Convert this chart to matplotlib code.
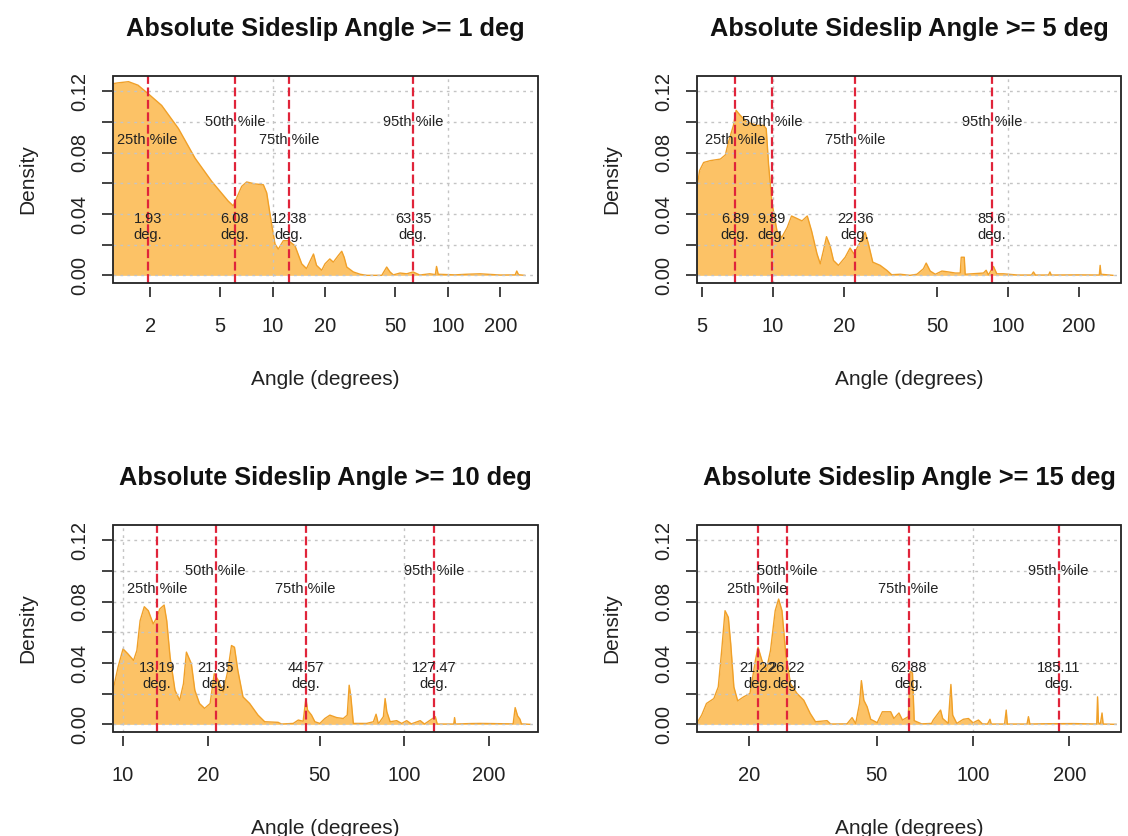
import matplotlib
matplotlib.use("Agg")
import matplotlib.pyplot as plt
from matplotlib.patches import Rectangle

# --- DATA ---
# kernel density of |sideslip angle| for four thresholds
x_1deg = [1.15, 1.30, 1.50, 1.70, 1.95, 2.32, 2.89, 3.60, 4.48, 5.57,
          5.95, 6.22, 6.65, 7.10, 7.92, 8.84, 9.24, 9.65, 10.3, 10.76,
          11.5, 12.3, 13.4, 14.65, 15.6, 17.1, 17.8, 19.05, 19.9, 21.2,
          22.2, 23.7, 24.8, 25.6, 26.5, 28.9, 31.6, 34.5, 42.0, 44.8,
          46.8, 48.9, 53.4, 58.3, 63.4, 69.2, 79.0, 85.0, 86.3, 88.2,
          110, 128, 153, 200, 243, 248, 254, 275]
y_1deg = [0.1245, 0.1255, 0.1263, 0.1240, 0.1183, 0.1108, 0.0958, 0.0764, 0.0613, 0.0484,
          0.0453, 0.0504, 0.0580, 0.0609, 0.0596, 0.0591, 0.0538, 0.0400, 0.0205, 0.0171,
          0.0226, 0.0226, 0.0193, 0.0075, 0.0044, 0.0139, 0.0065, 0.0033, 0.0075, 0.0107,
          0.0086, 0.0129, 0.0157, 0.0118, 0.0054, 0.0022, 0.0007, 0.0, 0.0, 0.0054,
          0.0022, 0.0003, 0.0015, 0.0010, 0.0022, 0.0002, 0.0010, 0.0005, 0.0058, 0.0007,
          0.0003, 0.0007, 0.0010, 0.0002, 0.0003, 0.0028, 0.0004, 0.0]

x_5deg = [4.6, 4.75, 4.87, 5.07, 5.41, 5.97, 6.27, 6.47, 6.79, 6.97,
          7.26, 7.74, 8.55, 9.12, 9.36, 9.58, 9.91, 10.4, 10.9, 11.5,
          12.0, 12.6, 13.3, 14.0, 14.6, 15.4, 15.9, 16.4, 16.9, 17.5,
          18.1, 19.0, 20.3, 21.3, 22.1, 23.5, 24.7, 25.5, 26.6, 28.6,
          30.5, 32.0, 34.8, 38.3, 41.0, 43.7, 44.9, 46.7, 49.1, 52.4,
          55.9, 59.7, 62.7, 63.3, 65.2, 65.8, 78.7, 80.8, 82.6, 86.8,
          89.7, 95.8, 110, 126, 128.5, 131, 149, 151, 153, 200,
          245, 247, 249, 280]
y_5deg = [0.050, 0.057, 0.0683, 0.0736, 0.0748, 0.0758, 0.0785, 0.0870, 0.0978, 0.1076,
          0.1043, 0.1000, 0.0978, 0.0978, 0.0957, 0.0721, 0.0470, 0.0290, 0.0247, 0.0312,
          0.0387, 0.0372, 0.0355, 0.0387, 0.0290, 0.0140, 0.0075, 0.0161, 0.0252, 0.0193,
          0.0097, 0.0065, 0.0118, 0.0178, 0.0140, 0.0215, 0.0280, 0.0204, 0.0086, 0.0065,
          0.0033, 0.0004, 0.0007, 0.0, 0.0007, 0.0043, 0.0080, 0.0028, 0.0007, 0.0028,
          0.0022, 0.0015, 0.0015, 0.0118, 0.0118, 0.0007, 0.0015, 0.0033, 0.0003, 0.0058,
          0.0010, 0.0010, 0.0002, 0.0002, 0.0022, 0.0002, 0.0002, 0.0022, 0.0002, 0.0003,
          0.0002, 0.0065, 0.0007, 0.0]

x_10deg = [9.0, 9.21, 9.60, 10.0, 10.4, 10.9, 11.2, 11.5, 11.9, 12.3,
           12.8, 13.2, 13.5, 14.0, 14.3, 14.7, 15.3, 15.9, 16.4, 16.8,
           17.5, 18.0, 18.7, 19.5, 20.4, 21.1, 21.8, 22.7, 23.6, 24.3,
           24.9, 25.6, 26.7, 28.2, 30.2, 31.9, 35.6, 36.6, 40.3, 42.0,
           43.7, 44.7, 45.3, 46.8, 48.1, 50.1, 52.2, 54.4, 57.5, 60.7,
           62.7, 63.7, 64.6, 65.9, 73.5, 77.7, 79.4, 80.9, 84.3, 85.5,
           86.7, 89.1, 94.0, 97.9, 102, 106, 114, 118, 129, 131,
           150, 151, 152, 171, 186, 205, 244, 248, 253, 258, 261, 280]
y_10deg = [0.015, 0.0222, 0.0374, 0.0492, 0.0460, 0.0417, 0.0482, 0.0676, 0.0767, 0.0741,
           0.0655, 0.0698, 0.0752, 0.0778, 0.0676, 0.0438, 0.0222, 0.0157, 0.0265, 0.0471,
           0.0395, 0.0222, 0.0136, 0.0104, 0.0136, 0.0330, 0.0287, 0.0211, 0.0352, 0.0514,
           0.0503, 0.0352, 0.0179, 0.0136, 0.0060, 0.0017, 0.0013, 0.0002, 0.0006, 0.0028,
           0.0020, 0.0168, 0.0093, 0.0060, 0.0017, 0.0006, 0.0038, 0.0060, 0.0044, 0.0038,
           0.0060, 0.0255, 0.0179, 0.0006, 0.0006, 0.0017, 0.0066, 0.0003, 0.0050, 0.0168,
           0.0082, 0.0017, 0.0024, 0.0006, 0.0024, 0.0003, 0.0024, 0.0002, 0.0050, 0.0002,
           0.0002, 0.0044, 0.0002, 0.0005, 0.0006, 0.0005, 0.0003, 0.0109, 0.0055, 0.0033,
           0.0003, 0.0]

x_15deg = [13.5, 13.7, 14.2, 14.7, 15.5, 16.0, 16.4, 16.8, 17.2, 17.5,
           17.9, 18.4, 19.2, 20.1, 20.9, 21.3, 21.9, 22.6, 23.3, 24.1,
           24.7, 25.3, 26.0, 26.9, 28.2, 29.6, 31.0, 32.2, 35.0, 35.9,
           40.4, 41.9, 43.0, 44.2, 44.8, 45.6, 46.7, 47.9, 50.2, 52.1,
           55.3, 56.6, 58.7, 60.2, 62.8, 63.6, 64.7, 65.5, 69.1, 74.2,
           75.1, 79.2, 80.4, 83.7, 85.3, 86.4, 89.0, 93.3, 96.8, 100,
           104, 107, 111, 113, 114, 125.5, 127, 128, 147.5, 149,
           150.5, 170, 206, 243.5, 245, 246.5, 250, 253, 255, 280]
y_15deg = [0.0, 0.0006, 0.0060, 0.0136, 0.0168, 0.0244, 0.0482, 0.0741, 0.0698, 0.0525,
           0.0244, 0.0153, 0.0179, 0.0201, 0.0417, 0.0503, 0.0417, 0.0352, 0.0482, 0.0741,
           0.0817, 0.0741, 0.0460, 0.0265, 0.0201, 0.0157, 0.0071, 0.0017, 0.0024, 0.0002,
           0.0003, 0.0044, 0.0005, 0.0136, 0.0285, 0.0157, 0.0114, 0.0033, 0.0011, 0.0082,
           0.0082, 0.0038, 0.0074, 0.0028, 0.0050, 0.0346, 0.0335, 0.0024, 0.0003, 0.0006,
           0.0028, 0.0093, 0.0038, 0.0006, 0.0260, 0.0060, 0.0006, 0.0033, 0.0038, 0.0010,
           0.0028, 0.0003, 0.0002, 0.0033, 0.0002, 0.0002, 0.0093, 0.0002, 0.0002, 0.0050,
           0.0002, 0.0004, 0.0005, 0.0002, 0.0179, 0.0010, 0.0002, 0.0074, 0.0002, 0.0]

# 25th / 50th / 75th / 95th percentiles
pct_1deg = [1.93, 6.08, 12.38, 63.35]
pct_5deg = [6.89, 9.89, 22.36, 85.6]
pct_10deg = [13.19, 21.35, 44.57, 127.47]
pct_15deg = [21.22, 26.22, 62.88, 185.11]

pct_names = ["25th %ile", "50th %ile", "75th %ile", "95th %ile"]
thresholds = [1, 5, 10, 15]
x_ticks_all = [2, 5, 10, 20, 50, 100, 200]

# --- STYLE ---
FILL = "#FCC266"
EDGE = "#F0A028"
RED = "#E0243A"
GRID = "#C4C4C4"
INK = "#222222"
plt.rcParams["font.family"] = ["Liberation Sans", "DejaVu Sans"]


def draw_panel(ax, xs, ys, pcts, thr, xlim):
    ax.set_xscale("log")
    ax.set_xlim(*xlim)
    ax.set_ylim(-0.005, 0.13)

    # density
    ax.fill_between(xs, ys, 0, color=FILL, lw=0, zorder=1)
    ax.plot(xs, ys, color=EDGE, lw=1.0, zorder=2)

    # grid like R's grid(): dotted lightgray on top of the fill
    for yv in [0, 0.02, 0.04, 0.06, 0.08, 0.10, 0.12]:
        ax.axhline(yv, color=GRID, lw=1.0, ls=(0, (2, 3)), zorder=3)
    for xv in [1, 10, 100]:
        if xlim[0] < xv < xlim[1]:
            ax.axvline(xv, color=GRID, lw=1.0, ls=(0, (2, 3)), zorder=3)

    # percentile lines + labels
    for i, p in enumerate(pcts):
        ax.axvline(p, color=RED, lw=1.6, ls=(0, (4, 1.6)), zorder=4)
        ylab = 0.088 if i % 2 == 0 else 0.100
        ax.text(p, ylab, pct_names[i], ha="center", va="center",
                fontsize=10.5, color=INK, zorder=5)
        ax.text(p, 0.0315, f"{p}\ndeg.", ha="center", va="center",
                fontsize=10.5, color=INK, linespacing=1.2, zorder=5)

    # axes, R style: box + detached ticks
    for s in ax.spines.values():
        s.set_visible(False)
    ax.spines["bottom"].set_position(("outward", 3))
    ax.spines["left"].set_position(("outward", 1))
    ax.add_patch(Rectangle((0, 0), 1, 1, transform=ax.transAxes, fill=False,
                           lw=1.3, ec=INK, clip_on=False, zorder=6))

    ticks = [t for t in x_ticks_all if xlim[0] < t < xlim[1]]
    ax.set_xticks(ticks)
    ax.set_xticklabels([str(t) for t in ticks])
    ax.xaxis.set_minor_locator(matplotlib.ticker.NullLocator())
    ax.set_yticks([0, 0.02, 0.04, 0.06, 0.08, 0.10, 0.12])
    ax.set_yticklabels(["0.00", "", "0.04", "", "0.08", "", "0.12"],
                       rotation=90, va="center")
    ax.tick_params(axis="x", length=7.5, width=1.2, pad=14, labelsize=14.5,
                   color=INK, labelcolor=INK)
    ax.tick_params(axis="y", length=7.5, width=1.2, pad=8.5, labelsize=14.5,
                   color=INK, labelcolor=INK)

    ax.text(0.5, 1.225, f"Absolute Sideslip Angle >= {thr} deg",
            transform=ax.transAxes, ha="center", va="center",
            fontsize=18.3, fontweight="bold", color="#111111")
    ax.text(0.5, -0.465, "Angle (degrees)", transform=ax.transAxes,
            ha="center", va="center", fontsize=15, color=INK)
    ax.text(-0.2, 0.5, "Density", transform=ax.transAxes, rotation=90,
            ha="center", va="center", fontsize=15, color=INK)


def main():
    fig = plt.figure(figsize=(11.28, 8.36), dpi=100)
    W, H = 1128, 836
    # pixel boxes of the four plot regions
    boxes = [(113, 76, 538, 283), (697, 76, 1121, 283),
             (113, 525, 538, 732), (697, 525, 1121, 732)]
    data = [(x_1deg, y_1deg, pct_1deg, (1.223, 328)),
            (x_5deg, y_5deg, pct_5deg, (4.75, 303)),
            (x_10deg, y_10deg, pct_10deg, (9.21, 299)),
            (x_15deg, y_15deg, pct_15deg, (13.73, 290))]
    for (l, t, r, b), (xs, ys, pcts, xlim), thr in zip(boxes, data, thresholds):
        ax = fig.add_axes([l / W, 1 - b / H, (r - l) / W, (b - t) / H])
        draw_panel(ax, xs, ys, pcts, thr, xlim)

    fig.savefig("out.png", dpi=100)


if __name__ == "__main__":
    main()
